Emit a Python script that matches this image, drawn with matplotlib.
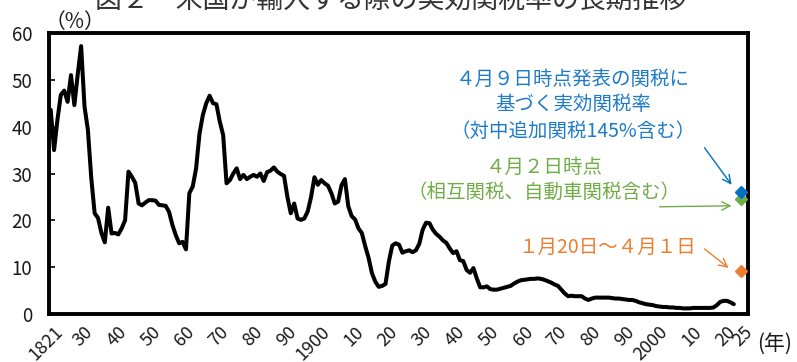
import matplotlib
matplotlib.use("Agg")
import matplotlib.pyplot as plt
import matplotlib.transforms as mtransforms

plt.rcParams["font.family"] = ["Noto Sans CJK JP", "DejaVu Sans"]

# Effective US tariff rate on imports (%), annual, 1821-2023
years = list(range(1821, 2024))
tariff = [
    43.6, 35.0, 41.5, 46.8, 47.7, 45.3, 51.0, 44.6, 51.2, 57.2,   # 1821-1830
    44.3, 39.3, 29.0, 21.5, 20.5, 17.3, 15.3, 22.7, 17.2, 17.3,   # 1831-1840
    17.0, 18.3, 20.0, 30.4, 29.3, 28.0, 23.6, 23.2, 23.8, 24.3,   # 1841-1850
    24.3, 24.2, 23.3, 23.2, 23.1, 21.8, 19.0, 16.8, 15.1, 15.4,   # 1851-1860
    13.8, 25.8, 27.2, 31.1, 38.5, 42.5, 45.0, 46.6, 45.0, 44.8,   # 1861-1870
    41.1, 38.2, 27.9, 28.6, 30.0, 31.1, 28.8, 29.7, 28.8, 29.3,   # 1871-1880
    29.7, 29.3, 30.0, 28.4, 30.3, 30.6, 31.3, 30.4, 29.9, 29.5,   # 1881-1890
    25.0, 21.5, 23.6, 20.4, 20.1, 20.4, 21.9, 25.0, 29.2, 27.6,   # 1891-1900
    28.6, 27.9, 27.4, 25.8, 23.6, 24.0, 27.5, 28.8, 23.0, 20.9,   # 1901-1910
    20.2, 18.3, 17.3, 14.5, 12.0, 8.7, 6.9, 5.8, 6.0, 6.4,        # 1911-1920
    11.2, 14.6, 15.1, 14.8, 13.1, 13.4, 13.6, 13.2, 13.6, 15.0,   # 1921-1930
    18.0, 19.5, 19.4, 18.0, 17.1, 16.5, 15.7, 15.2, 14.0, 13.0,   # 1931-1940
    13.4, 11.5, 11.3, 9.4, 8.8, 9.8, 7.6, 5.7, 5.7, 5.9,          # 1941-1950
    5.3, 5.2, 5.2, 5.4, 5.6, 5.8, 6.0, 6.5, 6.9, 7.2,             # 1951-1960
    7.3, 7.4, 7.5, 7.5, 7.6, 7.5, 7.3, 7.0, 6.7, 6.3,             # 1961-1970
    6.0, 5.2, 4.4, 3.8, 3.9, 3.8, 3.8, 3.8, 3.3, 3.0,             # 1971-1980
    3.3, 3.5, 3.5, 3.5, 3.5, 3.5, 3.4, 3.3, 3.3, 3.2,             # 1981-1990
    3.1, 3.0, 3.0, 2.8, 2.5, 2.3, 2.1, 2.0, 1.9, 1.7,             # 1991-2000
    1.6, 1.5, 1.5, 1.4, 1.4, 1.3, 1.3, 1.2, 1.2, 1.2,             # 2001-2010
    1.3, 1.3, 1.3, 1.3, 1.3, 1.3, 1.4, 1.9, 2.6, 2.8,             # 2011-2020
    2.8, 2.5, 2.1,                                                # 2021-2023
]

# 2025 scenario points
scenario_year = 2025
rate_jan20_apr1 = 9.2
rate_apr2 = 24.6
rate_apr9 = 26.1

tick_years = [1821, 1830, 1840, 1850, 1860, 1870, 1880, 1890, 1900, 1910,
              1920, 1930, 1940, 1950, 1960, 1970, 1980, 1990, 2000, 2010,
              2020, 2025]
tick_labels = ["1821", "30", "40", "50", "60", "70", "80", "90", "1900", "10",
               "20", "30", "40", "50", "60", "70", "80", "90", "2000", "10",
               "20", "25"]
y_ticks = [0, 10, 20, 30, 40, 50, 60]

title = "図２　米国が輸入する際の実効関税率の長期推移"
blue_lines = ["４月９日時点発表の関税に", "基づく実効関税率", "（対中追加関税145%含む）"]
green_lines = ["４月２日時点", "（相互関税、自動車関税含む）"]
orange_line = "１月20日～４月１日"

BLUE = "#0070C0"
BLUE_TXT = "#1F7BC8"
GREEN = "#70AD47"
ORANGE = "#ED7D31"
INK = "#1a1a1a"

W, H = 797, 362
fig = plt.figure(figsize=(W / 100, H / 100), dpi=100)


def fx(px):
    return px / W


def fy(py):
    return 1 - py / H


ax = fig.add_axes([fx(49), fy(314), fx(748 - 49), (314 - 33) / H])

ax.plot(years, tariff, color="black", lw=2.9, solid_joinstyle="round",
        solid_capstyle="round", zorder=3)

ax.plot([scenario_year], [rate_jan20_apr1], marker="D", ms=6, color=ORANGE,
        ls="none", zorder=4)
ax.plot([scenario_year], [rate_apr2], marker="D", ms=6, color=GREEN,
        ls="none", zorder=4)
ax.plot([scenario_year], [rate_apr9], marker="D", ms=6, color=BLUE,
        ls="none", zorder=5)

ax.set_xlim(1820.5, 2027.2)
ax.set_ylim(0, 60)

for s in ax.spines.values():
    s.set_linewidth(2.8)
    s.set_color("black")

ax.set_yticks(y_ticks)
ax.set_yticklabels([str(v) for v in y_ticks])
ax.tick_params(axis="y", direction="in", length=4, width=1.2, pad=12,
               labelsize=13.5, labelcolor=INK)

ax.set_xticks(tick_years)
ax.set_xticklabels(tick_labels, rotation=45, ha="right", va="top",
                   rotation_mode="anchor")
ax.tick_params(axis="x", length=0, pad=6.5, labelsize=13, labelcolor=INK)
shift = mtransforms.ScaledTranslation(3 / 100, 0, fig.dpi_scale_trans)
for lbl in ax.get_xticklabels():
    lbl.set_transform(lbl.get_transform() + shift)

# arrows pointing at the scenario markers
arrow_kw = dict(arrowstyle="->,head_length=0.6,head_width=0.3", lw=1.0,
                shrinkA=0, shrinkB=0)


def marker_arrow(rate, tip_dx, tip_dy, tail_dx, tail_dy, color):
    tip = mtransforms.offset_copy(ax.transData, fig=fig, x=tip_dx, y=tip_dy,
                                  units="dots")
    ax.annotate("", xy=(scenario_year, rate), xycoords=tip,
                xytext=(tail_dx, tail_dy), textcoords="offset pixels",
                arrowprops=dict(color=color, **arrow_kw), zorder=6,
                annotation_clip=False)


marker_arrow(rate_apr9, -9, 7, -27, 37, BLUE)
marker_arrow(rate_apr2, -9, -7, -72, -1, GREEN)
marker_arrow(rate_jan20_apr1, -12, 3, -24, 19, ORANGE)

# annotation texts
for line, ypx in zip(blue_lines, [79, 104.5, 131]):
    fig.text(fx(573), fy(ypx), line, color=BLUE_TXT, fontsize=14,
             ha="center", va="center")
for line, ypx in zip(green_lines, [167, 192]):
    fig.text(fx(544), fy(ypx), line, color=GREEN, fontsize=14,
             ha="center", va="center")
fig.text(fx(607), fy(247), orange_line, color=ORANGE, fontsize=14,
         ha="center", va="center")

# title, axis unit labels
fig.text(fx(391), fy(8), title, color="#333333", fontsize=19.4,
         ha="center", va="baseline")
fig.text(fx(75), fy(22), "（%）", color=INK, fontsize=15,
         ha="center", va="center")
fig.text(fx(775), fy(344), "(年)", color=INK, fontsize=15,
         ha="center", va="center")

fig.savefig("out.png", dpi=100)
